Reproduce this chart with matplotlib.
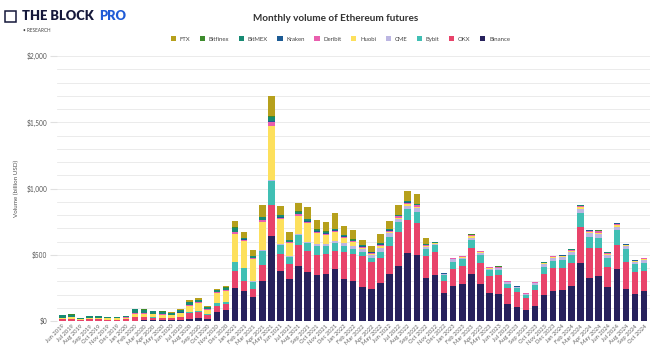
import matplotlib.pyplot as plt
import numpy as np

# months from Jun 2019 to Oct 2024
months = ['Jun 2019', 'Jul 2019', 'Aug 2019', 'Sep 2019', 'Oct 2019', 'Nov 2019', 'Dec 2019',
          'Jan 2020', 'Feb 2020', 'Mar 2020', 'Apr 2020', 'May 2020', 'Jun 2020', 'Jul 2020',
          'Aug 2020', 'Sep 2020', 'Oct 2020', 'Nov 2020', 'Dec 2020',
          'Jan 2021', 'Feb 2021', 'Mar 2021', 'Apr 2021', 'May 2021', 'Jun 2021', 'Jul 2021',
          'Aug 2021', 'Sep 2021', 'Oct 2021', 'Nov 2021', 'Dec 2021',
          'Jan 2022', 'Feb 2022', 'Mar 2022', 'Apr 2022', 'May 2022', 'Jun 2022', 'Jul 2022',
          'Aug 2022', 'Sep 2022', 'Oct 2022', 'Nov 2022', 'Dec 2022',
          'Jan 2023', 'Feb 2023', 'Mar 2023', 'Apr 2023', 'May 2023', 'Jun 2023', 'Jul 2023',
          'Aug 2023', 'Sep 2023', 'Oct 2023', 'Nov 2023', 'Dec 2023',
          'Jan 2024', 'Feb 2024', 'Mar 2024', 'Apr 2024', 'May 2024', 'Jun 2024', 'Jul 2024',
          'Aug 2024', 'Sep 2024', 'Oct 2024']

# volumes in billion USD
binance = [0, 0, 0, 0, 0, 0, 0, 2, 3, 4, 4, 4, 5, 8, 15, 20, 18, 70, 80,
           252, 226, 184, 304, 644, 380, 317, 415, 372, 347, 352, 390,
           317, 304, 257, 239, 289, 355, 418, 516, 498, 327, 347, 212,
           267, 277, 355, 277, 211, 206, 130, 105, 85, 110, 195, 226,
           234, 267, 435, 327, 340, 259, 392, 239, 206, 229]
okx = [15, 18, 8, 12, 12, 10, 10, 12, 25, 25, 22, 20, 18, 22, 45, 48, 25, 43, 45,
       126, 73, 58, 119, 231, 125, 113, 161, 156, 154, 154, 140,
       200, 200, 230, 210, 184, 211, 256, 246, 239, 163, 170, 92,
       125, 138, 198, 163, 129, 141, 121, 116, 85, 124, 160, 177,
       169, 168, 277, 226, 208, 151, 182, 209, 161, 151]
bybit = [0, 0, 0, 0, 0, 0, 0, 0, 2, 2, 2, 2, 2, 3, 6, 8, 8, 20, 15,
         66, 98, 55, 105, 182, 69, 56, 75, 60, 62, 62, 55,
         50, 40, 35, 30, 50, 70, 71, 81, 88, 50, 55, 43,
         56, 50, 58, 58, 42, 38, 32, 25, 25, 38, 55, 52,
         57, 63, 101, 83, 78, 63, 113, 93, 60, 58]
cme = [0, 0, 0, 0, 0, 0, 0, 0, 0, 0, 0, 0, 0, 0, 0, 0, 0, 0, 0,
       0, 3, 3, 5, 8, 5, 5, 5, 12, 20, 15, 20,
       20, 25, 20, 20, 25, 25, 22, 25, 25, 15, 10, 6,
       17, 14, 19, 16, 12, 12, 10, 8, 7, 12, 20, 22,
       22, 25, 32, 30, 31, 25, 25, 22, 18, 22]
huobi = [5, 10, 8, 12, 12, 10, 10, 12, 25, 25, 22, 22, 18, 28, 50, 60, 35, 75, 85,
         214, 202, 168, 214, 410, 193, 95, 138, 140, 82, 65, 66,
         40, 25, 12, 8, 15, 12, 12, 12, 12, 8, 4, 2,
         4, 4, 8, 6, 5, 5, 4, 3, 3, 4, 5, 6,
         6, 7, 12, 8, 10, 8, 10, 7, 5, 6]
deribit = [2, 2, 1, 1, 1, 1, 1, 2, 3, 3, 3, 3, 3, 3, 5, 5, 5, 8, 10,
           11, 12, 8, 13, 30, 8, 8, 10, 10, 10, 12, 12,
           10, 10, 8, 8, 12, 10, 12, 13, 12, 8, 5, 3,
           5, 5, 8, 6, 5, 5, 4, 3, 3, 4, 5, 6,
           6, 8, 12, 8, 10, 8, 12, 7, 6, 8]
kraken = [1, 1, 1, 1, 1, 1, 1, 1, 1, 1, 1, 1, 1, 1, 2, 2, 2, 2, 2,
          3, 3, 2, 4, 5, 3, 3, 5, 4, 3, 3, 3,
          3, 3, 2, 2, 3, 3, 3, 3, 3, 2, 1, 1,
          1, 1, 2, 1, 1, 1, 1, 1, 1, 1, 1, 1,
          1, 1, 2, 2, 2, 1, 2, 1, 1, 1]
bitmex = [20, 18, 6, 8, 8, 7, 6, 10, 30, 25, 20, 18, 13, 18, 20, 15, 10, 15, 15,
          31, 10, 10, 18, 30, 17, 12, 16, 14, 12, 12, 10,
          8, 8, 6, 5, 10, 8, 7, 8, 7, 5, 2, 2,
          3, 3, 4, 3, 3, 3, 2, 2, 2, 2, 3, 3,
          3, 4, 5, 4, 4, 3, 4, 3, 3, 3]
bitfinex = [2, 2, 1, 1, 1, 1, 1, 1, 2, 2, 2, 2, 2, 2, 2, 2, 2, 2, 2,
            3, 3, 3, 3, 5, 3, 3, 3, 3, 3, 2, 2,
            2, 2, 1, 1, 2, 2, 2, 2, 2, 1, 1, 1,
            1, 1, 1, 1, 1, 1, 1, 1, 1, 1, 1, 1,
            1, 1, 1, 1, 1, 1, 1, 1, 1, 1]
ftx = [0, 0, 0, 0, 0, 0, 0, 0, 2, 3, 3, 3, 3, 5, 15, 17, 10, 8, 10,
       50, 45, 45, 93, 151, 66, 58, 60, 92, 68, 68, 120,
       67, 70, 40, 46, 64, 61, 72, 75, 70, 50, 3, 0,
       0, 0, 0, 0, 0, 0, 0, 0, 0, 0, 0, 0,
       0, 0, 0, 0, 0, 0, 0, 0, 0, 0]

# stacking order bottom -> top
series = [('Binance', binance, '#27215c'),
          ('OKX', okx, '#e8436a'),
          ('Bybit', bybit, '#40bfb4'),
          ('CME', cme, '#bcb6e2'),
          ('Huobi', huobi, '#fde05c'),
          ('Deribit', deribit, '#e95fae'),
          ('Kraken', kraken, '#1c5b94'),
          ('BitMEX', bitmex, '#178a73'),
          ('Bitfinex', bitfinex, '#3d8b2c'),
          ('FTX', ftx, '#b6a01c')]

plt.rcParams['font.family'] = ['Lato', 'DejaVu Sans']

fig = plt.figure(figsize=(6.52, 3.5), dpi=100)
ax = fig.add_axes([57 / 652, 29 / 350, 593 / 652, 265 / 350])

x = np.arange(len(months))
bottom = np.zeros(len(months))
handles = {}
for name, vals, color in series:
    vals = np.array(vals, dtype=float)
    b = ax.bar(x, vals, 0.72, bottom=bottom, color=color, linewidth=0, zorder=3)
    handles[name] = b
    bottom += vals

ax.set_xlim(-0.58, 64.65)
ax.set_ylim(0, 2000)
ax.set_yticks(range(0, 2001, 500))
ax.set_yticks(range(0, 2001, 100), minor=True)
ax.set_yticklabels(['$0', '$500', '$1,000', '$1,500', '$2,000'])
ax.grid(which='both', axis='y', color='#e8e8e8', linewidth=0.6, zorder=0)
ax.tick_params(axis='y', which='major', length=5, color='#e0e0e0', labelsize=4.7,
               labelcolor='#555555', pad=2)
ax.tick_params(axis='y', which='minor', length=0)
ax.set_xticks(x)
ax.set_xticklabels(months, rotation=45, ha='right', rotation_mode='anchor')
ax.tick_params(axis='x', length=0, labelsize=4.2, labelcolor='#666666', pad=2)
for s in ax.spines.values():
    s.set_visible(False)
ax.set_ylabel('Volume (billion USD)', fontsize=4.5, color='#555555', labelpad=5)

fig.text(0.514, 0.948, 'Monthly volume of Ethereum futures', ha='center', va='center',
         fontsize=7.2, fontweight='bold', color='#333333')

legend_order = ['FTX', 'Bitfinex', 'BitMEX', 'Kraken', 'Deribit', 'Huobi', 'CME',
                'Bybit', 'OKX', 'Binance']
fig.legend([handles[n] for n in legend_order], legend_order, loc='center',
           bbox_to_anchor=(0.522, 0.888), ncol=10, frameon=False, fontsize=4.3,
           handlelength=0.9, handleheight=0.9, handletextpad=0.6, columnspacing=1.6,
           labelcolor='#444444')

# header logo
fig.text(0.033, 0.955, 'THE BLOCK', ha='left', va='center', fontsize=9.3,
         fontweight='heavy', color='#15183a')
fig.text(0.152, 0.955, 'PRO', ha='left', va='center', fontsize=9.3,
         fontweight='heavy', color='#1f5bd6')
fig.text(0.036, 0.913, '• RESEARCH', ha='left', va='center', fontsize=3.4, color='#444444')
fig.patches.append(plt.Rectangle((0.008, 0.937), 0.016, 0.032, transform=fig.transFigure,
                                 fill=False, edgecolor='#15183a', linewidth=1.1))

fig.savefig('out.png', dpi=100)
